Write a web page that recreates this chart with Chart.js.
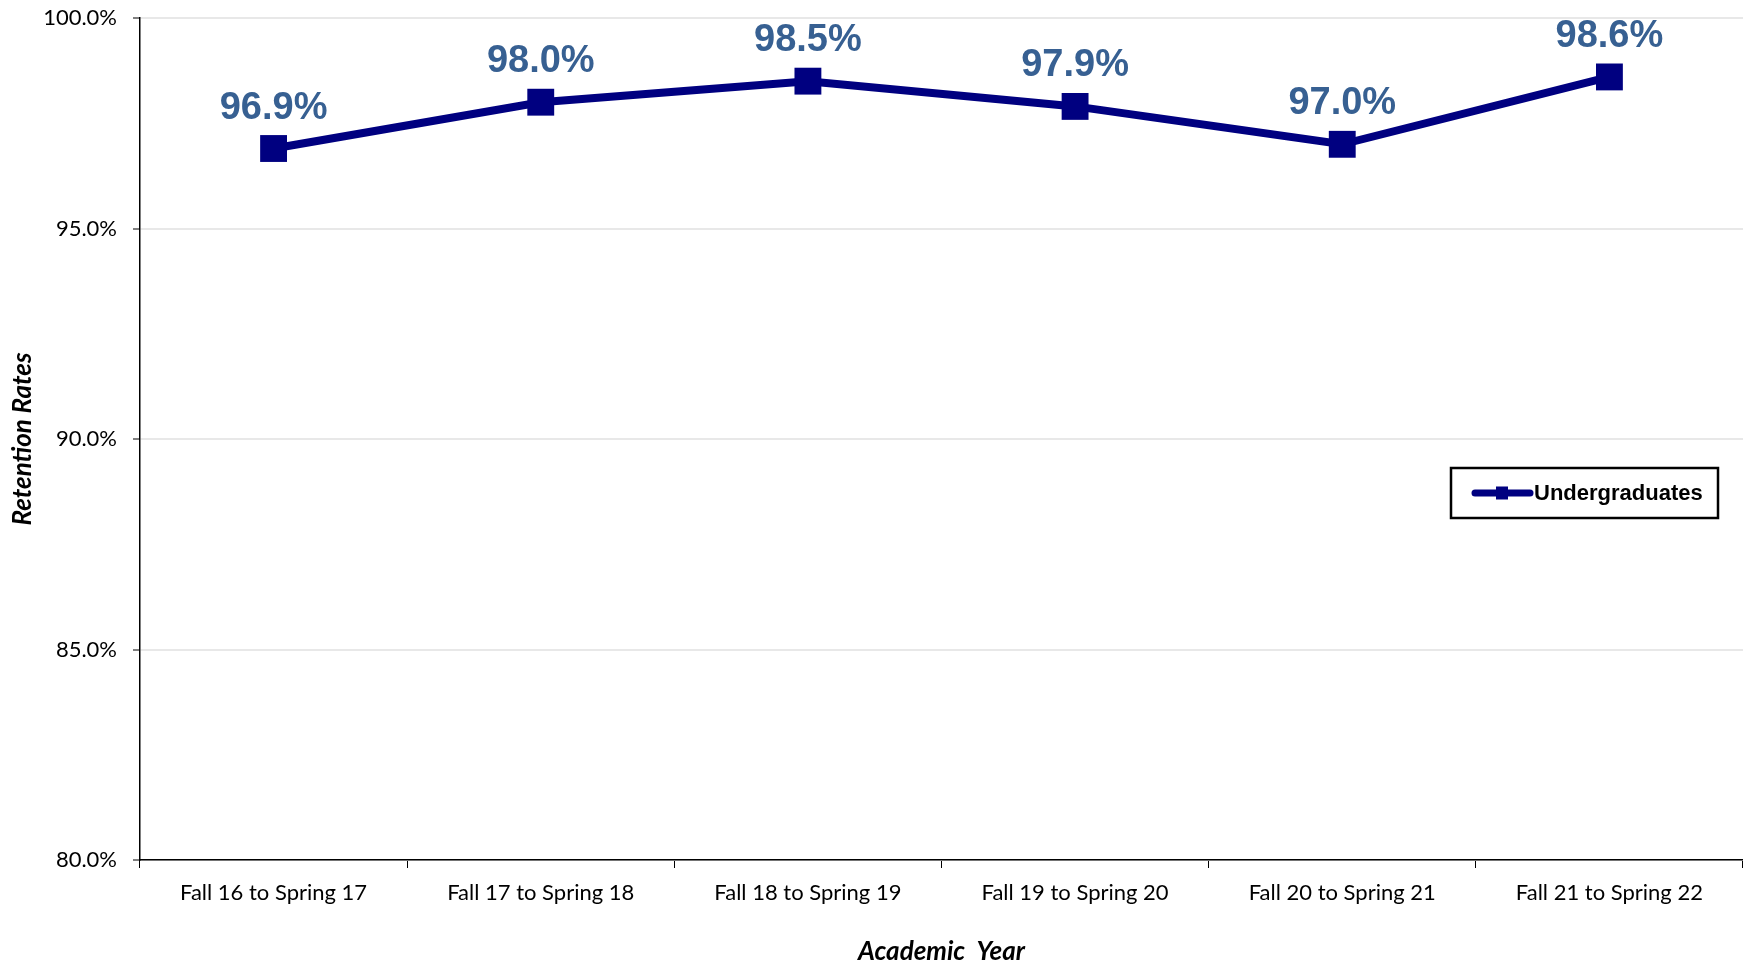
<!DOCTYPE html>
<html>
<head>
<meta charset="utf-8">
<script src="https://cdn.jsdelivr.net/npm/chart.js@4"></script>
<style>
  body { margin: 0; background: #fff; }
  canvas { display: block; }
</style>
</head>
<body>
<canvas id="retentionChart" width="1743" height="964"></canvas>
<script>
// #### Data
const years = [
    'Fall 16 to Spring 17',
    'Fall 17 to Spring 18',
    'Fall 18 to Spring 19',
    'Fall 19 to Spring 20',
    'Fall 20 to Spring 21',
    'Fall 21 to Spring 22'
];
const undergraduates = [96.9, 98.0, 98.5, 97.9, 97.0, 98.6];
const yMin = 80;
const yMax = 100;
const yStep = 5;

const NAVY = '#000080';
const tickFont = { family: 'Lato, "Noto Sans", sans-serif', size: 22 };
const titleFont = { family: 'Lato, "Noto Sans", sans-serif', size: 26, weight: 'bold', style: 'italic' };

// #### Plugins
// percent labels above each point
const valueLabels = {
    id: 'valueLabels',
    afterDatasetsDraw(chart) {
        const ctx = chart.ctx;
        const meta = chart.getDatasetMeta(0);
        const values = chart.data.datasets[0].data;
        ctx.save();
        ctx.font = 'bold 38px "Liberation Sans", Arial, sans-serif';
        ctx.fillStyle = '#376092';
        ctx.textAlign = 'center';
        ctx.textBaseline = 'alphabetic';
        meta.data.forEach((pt, i) => {
            ctx.fillText(values[i].toFixed(1) + '%', pt.x, pt.y - 30);
        });
        ctx.restore();
    }
};

// boxed legend sitting inside the plot on the right
const boxLegend = {
    id: 'boxLegend',
    afterDraw(chart) {
        const { ctx, chartArea } = chart;
        const ds = chart.data.datasets[0];
        const x = chartArea.right - 292;
        const y = chartArea.top + 450;
        const w = 267, h = 50;
        const cy = y + h / 2;
        ctx.save();
        ctx.fillStyle = '#fff';
        ctx.fillRect(x, y, w, h);
        ctx.strokeStyle = '#000';
        ctx.lineWidth = 2.5;
        ctx.strokeRect(x, y, w, h);

        ctx.strokeStyle = ds.borderColor;
        ctx.lineWidth = 7;
        ctx.lineCap = 'round';
        ctx.beginPath();
        ctx.moveTo(x + 24, cy);
        ctx.lineTo(x + 79, cy);
        ctx.stroke();
        ctx.fillStyle = ds.borderColor;
        ctx.fillRect(x + 45, cy - 6.5, 12, 13);

        ctx.fillStyle = '#000';
        ctx.font = 'bold 22px "Liberation Sans", Arial, sans-serif';
        ctx.textAlign = 'left';
        ctx.textBaseline = 'middle';
        ctx.fillText(ds.label, x + 83, cy + 1);
        ctx.restore();
    }
};

// #### Chart
const retentionChart = new Chart(document.getElementById('retentionChart').getContext('2d'), {
    type: 'line',
    data: {
        labels: years,
        datasets: [{
            label: 'Undergraduates',
            data: undergraduates,
            borderColor: NAVY,
            backgroundColor: NAVY,
            borderWidth: 8,
            fill: false,
            tension: 0,
            pointStyle: 'rect',
            pointRadius: 19,
            pointHoverRadius: 19,
            pointBorderWidth: 0,
            pointBackgroundColor: NAVY
        }]
    },
    options: {
        responsive: false,
        devicePixelRatio: 1,
        animation: false,
        events: [],
        layout: { autoPadding: false, padding: { top: 18, right: -3, left: 0, bottom: 0 } },
        scales: {
            x: {
                offset: true,
                afterFit: s => {
                    s.height = 104;
                    s.paddingLeft = 0;
                    s.paddingRight = 0;
                },
                grid: {
                    offset: true,
                    drawOnChartArea: false,
                    tickLength: 8,
                    tickColor: '#000',
                    tickWidth: 1
                },
                border: { display: true, color: '#000', width: 1.5 },
                ticks: { color: '#000', font: tickFont, padding: 12, maxRotation: 0 },
                title: { display: true, text: 'Academic  Year', color: '#000', font: titleFont, padding: { top: 0, bottom: -3 } }
            },
            y: {
                min: yMin,
                max: yMax,
                afterFit: s => {
                    s.width = 140;
                    s.paddingTop = 0;
                    s.paddingBottom = 0;
                },
                grid: {
                    color: '#e8e8e8',
                    lineWidth: 2,
                    tickLength: 7,
                    tickColor: '#000',
                    tickWidth: 1
                },
                border: { display: true, color: '#000', width: 1.5 },
                ticks: {
                    stepSize: yStep,
                    color: '#000',
                    font: tickFont,
                    padding: 16,
                    callback: v => v.toFixed(1) + '%'
                },
                title: { display: true, text: 'Retention Rates', color: '#000', font: titleFont, padding: { top: 7, bottom: 0 } }
            }
        },
        plugins: {
            legend: { display: false },
            tooltip: { enabled: false }
        }
    },
    plugins: [valueLabels, boxLegend]
});
</script>
</body>
</html>
